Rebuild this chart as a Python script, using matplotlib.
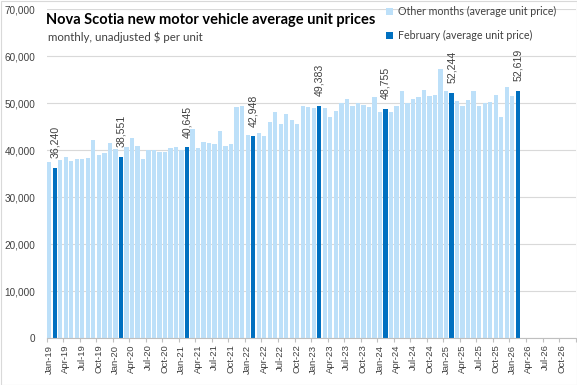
import matplotlib
matplotlib.use('Agg')
import matplotlib.pyplot as plt
import pandas as pd

# ---------------- data ----------------
months = pd.date_range('2019-01-01', periods=96, freq='MS')   # axis runs Jan-19 .. Dec-26
month_labels = [d.strftime('%b-%y') for d in months]

prices = [
    37580, 36240, 37940, 38570, 37790, 38150, 38150, 38360, 42190, 39000, 39430, 41620,   # 2019
    40280, 38551, 40770, 42620, 40910, 38150, 39990, 39990, 39710, 39710, 40490, 40700,   # 2020
    39990, 40645, 44550, 40490, 41770, 41550, 41340, 44110, 40910, 41340, 49210, 49430,   # 2021
    43260, 42948, 43680, 43040, 46020, 48150, 45600, 47720, 46450, 45600, 49430, 49210,   # 2022
    48970, 49383, 49100, 47090, 48360, 49960, 50850, 49360, 50000, 49640, 49210, 51340,   # 2023
    48150, 48755, 48150, 49430, 52620, 50000, 50910, 51340, 52830, 51550, 51770, 57300,   # 2024
    52620, 52244, 50490, 49430, 50700, 52620, 49430, 50060, 50280, 51770, 47090, 53470,   # 2025
    51550, 52619,                                                                         # 2026
]

title = 'Nova Scotia new motor vehicle average unit prices'
subtitle = 'monthly, unadjusted $ per unit'
label_other = 'Other months (average unit price)'
label_feb = 'February (average unit price)'
y_ticks = [0, 10000, 20000, 30000, 40000, 50000, 60000, 70000]

# ---------------- style ----------------
LIGHT = '#BDE0F9'
DARK = '#0070C0'
GRID = '#D9D9D9'
TXT = '#404040'

W, H = 577, 385
fig = plt.figure(figsize=(W / 100, H / 100), dpi=100)
fig.patch.set_facecolor('white')

x0, x1 = 46.5, 575.6
y0, y1 = 338.3, 9.3
ax = fig.add_axes([x0 / W, 1 - y0 / H, (x1 - x0) / W, (y0 - y1) / H])

n = len(prices)
x_other = [i for i in range(n) if months[i].month != 2]
v_other = [prices[i] for i in x_other]
x_feb = [i for i in range(n) if months[i].month == 2]
v_feb = [prices[i] for i in x_feb]

bw = 0.78
b1 = ax.bar(x_other, v_other, width=bw, color=LIGHT, label=label_other, zorder=2)
b2 = ax.bar(x_feb, v_feb, width=bw, color=DARK, label=label_feb, zorder=2)

for xi, v in zip(x_feb, v_feb):
    ax.annotate(f'{v:,.0f}', (xi, v), xytext=(0, 7.0), textcoords='offset points',
                rotation=90, ha='center', va='bottom', fontsize=7.6,
                family='Liberation Sans', color=TXT)

ax.set_xlim(-0.5, len(months) - 0.5)
ax.set_ylim(0, 70000)

ax.set_yticks(y_ticks)
ax.set_yticklabels([f'{t:,}' for t in y_ticks], family='Liberation Sans', fontsize=7.2, color=TXT)
ax.tick_params(axis='y', length=0, pad=8.0)
ax.grid(axis='y', color=GRID, lw=0.8, zorder=0)
ax.set_axisbelow(True)

major = list(range(0, len(months), 3))
ax.set_xticks(major)
ax.set_xticklabels([month_labels[i] for i in major], rotation=90, family='Liberation Sans',
                   fontsize=6.8, color=TXT, va='top', ha='center')
ax.set_xticks([i - 0.5 for i in major] + [len(months) - 0.5], minor=True)
ax.tick_params(axis='x', which='major', length=0, pad=4.5)
ax.tick_params(axis='x', which='minor', length=3, width=0.8, color='#BFBFBF')

for s in ['top', 'right', 'left']:
    ax.spines[s].set_visible(False)
ax.spines['bottom'].set_color('#BFBFBF')
ax.spines['bottom'].set_linewidth(0.8)

# titles
t1 = fig.text(46 / W, 1 - 20 / H, title, family='Lato', weight='bold', fontsize=10,
              color='black', ha='left', va='center')
t2 = fig.text(48 / W, 1 - 37 / H, subtitle, family='Lato', fontsize=8,
              color=TXT, ha='left', va='center')

leg = fig.legend(handles=[b1, b2], loc='upper left', bbox_to_anchor=(386 / W, 1 - 6 / H),
                 frameon=False, prop={'family': 'Lato', 'size': 8}, labelcolor=TXT,
                 handlelength=0.6, handleheight=0.6, handletextpad=0.5, labelspacing=1.2,
                 borderaxespad=0, borderpad=0)

# fit text widths to the reference
fig.canvas.draw()
r = fig.canvas.get_renderer()

def fit(t, target):
    w = t.get_window_extent(r).width
    t.set_fontsize(t.get_fontsize() * target / w)

fit(t1, 329)
fit(t2, 156)
lt = leg.get_texts()
w0 = lt[0].get_window_extent(r).width
fs = 8 * 159 / w0
for t in lt:
    t.set_fontsize(fs)

# chart border
fig.add_artist(plt.Rectangle((0.5 / W, 0.5 / H), 1 - 1 / W, 1 - 1 / H, transform=fig.transFigure,
                             fill=False, edgecolor='#D9D9D9', lw=0.8))

fig.savefig('out.png', dpi=100)
